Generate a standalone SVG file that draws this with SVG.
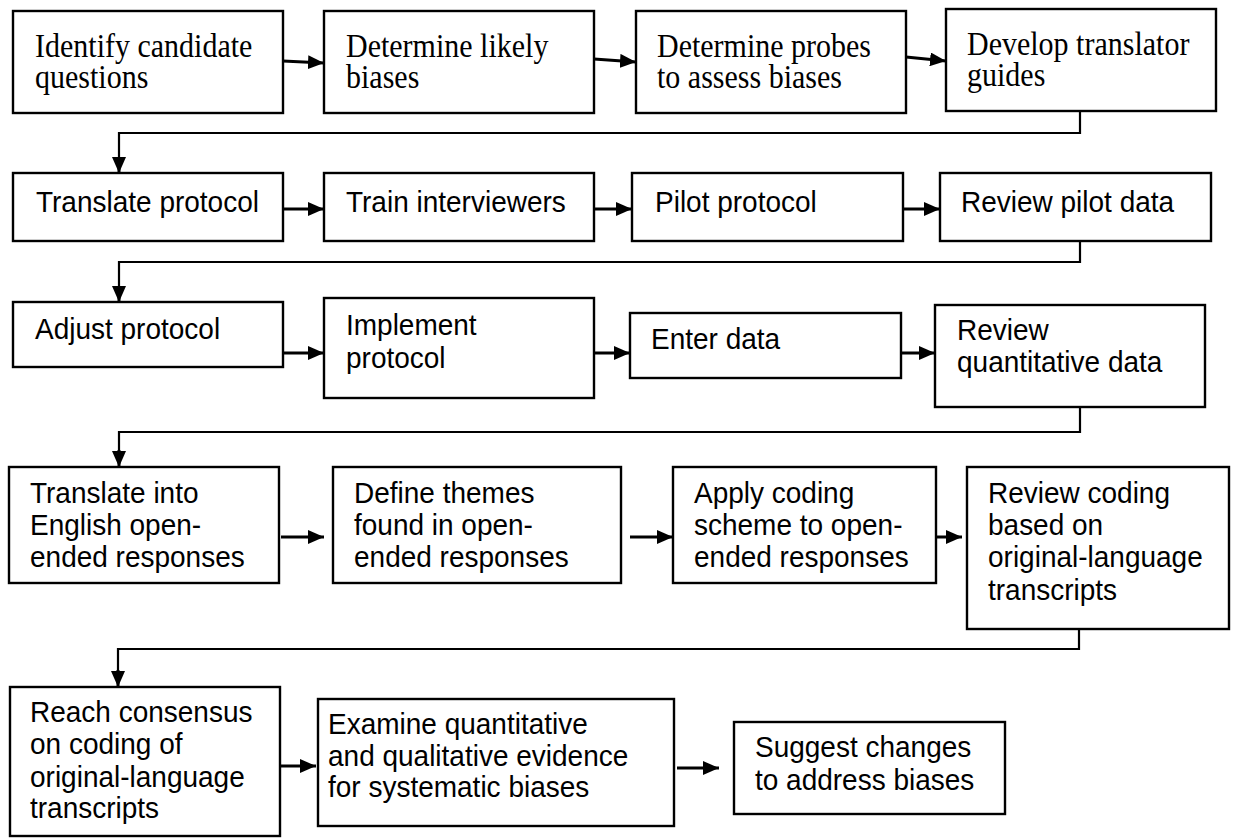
<svg xmlns="http://www.w3.org/2000/svg" width="1233" height="838" viewBox="0 0 1233 838">
<defs>
<marker id="ah" markerUnits="userSpaceOnUse" markerWidth="16" markerHeight="14" refX="16" refY="7" orient="auto">
<path d="M0,0 L16,7 L0,14 z" fill="#000"/>
</marker>
<style>
.box{fill:#fff;stroke:#000;stroke-width:2.4}
.serif{font-family:"Liberation Serif","Times New Roman",serif;font-size:30px;fill:#000}
.sans{font-family:"Liberation Sans",Arial,sans-serif;font-size:28px;fill:#000}
.arr{fill:none;stroke:#000;stroke-width:3;marker-end:url(#ah)}
.con{fill:none;stroke:#000;stroke-width:2.2}
</style>
</defs>
<rect width="1233" height="838" fill="#fff"/>

<g id="connectors">
<line class="arr" x1="283" y1="61" x2="324" y2="63"/>
<line class="arr" x1="594" y1="59" x2="636" y2="62"/>
<line class="arr" x1="906" y1="57" x2="946" y2="61"/>
<path class="con" d="M1080,111 V133 H119 V160"/>
<line class="arr" x1="119" y1="158" x2="119" y2="173"/>
<line class="arr" x1="283" y1="209" x2="324" y2="209"/>
<line class="arr" x1="594" y1="209" x2="632" y2="209"/>
<line class="arr" x1="903" y1="209" x2="940" y2="209"/>
<path class="con" d="M1080,241 V262 H119 V288"/>
<line class="arr" x1="119" y1="286" x2="119" y2="302"/>
<line class="arr" x1="283" y1="353" x2="324" y2="353"/>
<line class="arr" x1="594" y1="353" x2="630" y2="353"/>
<line class="arr" x1="901" y1="353" x2="935" y2="353"/>
<path class="con" d="M1080,407 V432 H119 V452"/>
<line class="arr" x1="119" y1="450" x2="119" y2="467"/>
<line class="arr" x1="281" y1="537" x2="324" y2="537"/>
<line class="arr" x1="630" y1="537" x2="673" y2="537"/>
<line class="arr" x1="936" y1="537" x2="962" y2="537"/>
<path class="con" d="M1079,629 V649 H118 V672"/>
<line class="arr" x1="118" y1="670" x2="118" y2="687"/>
<line class="arr" x1="280" y1="766" x2="316" y2="766"/>
<line class="arr" x1="677" y1="768" x2="719" y2="768"/>
</g>

<g id="n1"><rect class="box" x="13" y="11" width="270" height="102"/>
<text class="serif" transform="translate(35,57) scale(1,1.12)">Identify candidate</text>
<text class="serif" transform="translate(35,88) scale(1,1.12)">questions</text></g>
<g id="n2"><rect class="box" x="324" y="11" width="270" height="102"/>
<text class="serif" transform="translate(346,57) scale(1,1.12)">Determine likely</text>
<text class="serif" transform="translate(346,88) scale(1,1.12)">biases</text></g>
<g id="n3"><rect class="box" x="636" y="11" width="270" height="102"/>
<text class="serif" transform="translate(657,57) scale(1,1.12)">Determine probes</text>
<text class="serif" transform="translate(657,88) scale(1,1.12)">to assess biases</text></g>
<g id="n4"><rect class="box" x="946" y="9" width="270" height="102"/>
<text class="serif" transform="translate(967,55) scale(1,1.12)">Develop translator</text>
<text class="serif" transform="translate(967,86) scale(1,1.12)">guides</text></g>

<g id="n5"><rect class="box" x="13" y="173" width="270" height="68"/>
<text class="sans" transform="translate(36,212) scale(1,1.08)">Translate protocol</text></g>
<g id="n6"><rect class="box" x="324" y="173" width="270" height="68"/>
<text class="sans" transform="translate(346,212) scale(1,1.08)">Train interviewers</text></g>
<g id="n7"><rect class="box" x="632" y="173" width="271" height="68"/>
<text class="sans" transform="translate(655,212) scale(1,1.08)">Pilot protocol</text></g>
<g id="n8"><rect class="box" x="940" y="173" width="271" height="68"/>
<text class="sans" transform="translate(961,212) scale(1,1.08)">Review pilot data</text></g>

<g id="n9"><rect class="box" x="13" y="302" width="270" height="65"/>
<text class="sans" transform="translate(35,339) scale(1,1.08)">Adjust protocol</text></g>
<g id="n10"><rect class="box" x="324" y="298" width="270" height="100"/>
<text class="sans" transform="translate(346,335) scale(1,1.08)">Implement</text>
<text class="sans" transform="translate(346,368) scale(1,1.08)">protocol</text></g>
<g id="n11"><rect class="box" x="630" y="313" width="271" height="65"/>
<text class="sans" transform="translate(651,349) scale(1,1.08)">Enter data</text></g>
<g id="n12"><rect class="box" x="935" y="305" width="270" height="102"/>
<text class="sans" transform="translate(957,340) scale(1,1.08)">Review</text>
<text class="sans" transform="translate(957,372) scale(1,1.08)">quantitative data</text></g>

<g id="n13"><rect class="box" x="9" y="467" width="270" height="116"/>
<text class="sans" transform="translate(30,503) scale(1,1.08)">Translate into</text>
<text class="sans" transform="translate(30,535) scale(1,1.08)">English open-</text>
<text class="sans" transform="translate(30,567) scale(1,1.08)">ended responses</text></g>
<g id="n14"><rect class="box" x="333" y="467" width="288" height="116"/>
<text class="sans" transform="translate(354,503) scale(1,1.08)">Define themes</text>
<text class="sans" transform="translate(354,535) scale(1,1.08)">found in open-</text>
<text class="sans" transform="translate(354,567) scale(1,1.08)">ended responses</text></g>
<g id="n15"><rect class="box" x="673" y="467" width="263" height="116"/>
<text class="sans" transform="translate(694,503) scale(1,1.08)">Apply coding</text>
<text class="sans" transform="translate(694,535) scale(1,1.08)">scheme to open-</text>
<text class="sans" transform="translate(694,567) scale(1,1.08)">ended responses</text></g>
<g id="n16"><rect class="box" x="967" y="467" width="262" height="162"/>
<text class="sans" transform="translate(988,503) scale(1,1.08)">Review coding</text>
<text class="sans" transform="translate(988,535) scale(1,1.08)">based on</text>
<text class="sans" transform="translate(988,567) scale(1,1.08)">original-language</text>
<text class="sans" transform="translate(988,600) scale(1,1.08)">transcripts</text></g>

<g id="n17"><rect class="box" x="10" y="687" width="270" height="149"/>
<text class="sans" transform="translate(30,722) scale(1,1.08)">Reach consensus</text>
<text class="sans" transform="translate(30,754) scale(1,1.08)">on coding of</text>
<text class="sans" transform="translate(30,787) scale(1,1.08)">original-language</text>
<text class="sans" transform="translate(30,818) scale(1,1.08)">transcripts</text></g>
<g id="n18"><rect class="box" x="318" y="699" width="356" height="127"/>
<text class="sans" transform="translate(328,734) scale(1,1.08)">Examine quantitative</text>
<text class="sans" transform="translate(328,766) scale(1,1.08)">and qualitative evidence</text>
<text class="sans" transform="translate(328,797) scale(1,1.08)">for systematic biases</text></g>
<g id="n19"><rect class="box" x="734" y="722" width="271" height="92"/>
<text class="sans" transform="translate(755,757) scale(1,1.08)">Suggest changes</text>
<text class="sans" transform="translate(755,790) scale(1,1.08)">to address biases</text></g>
</svg>
